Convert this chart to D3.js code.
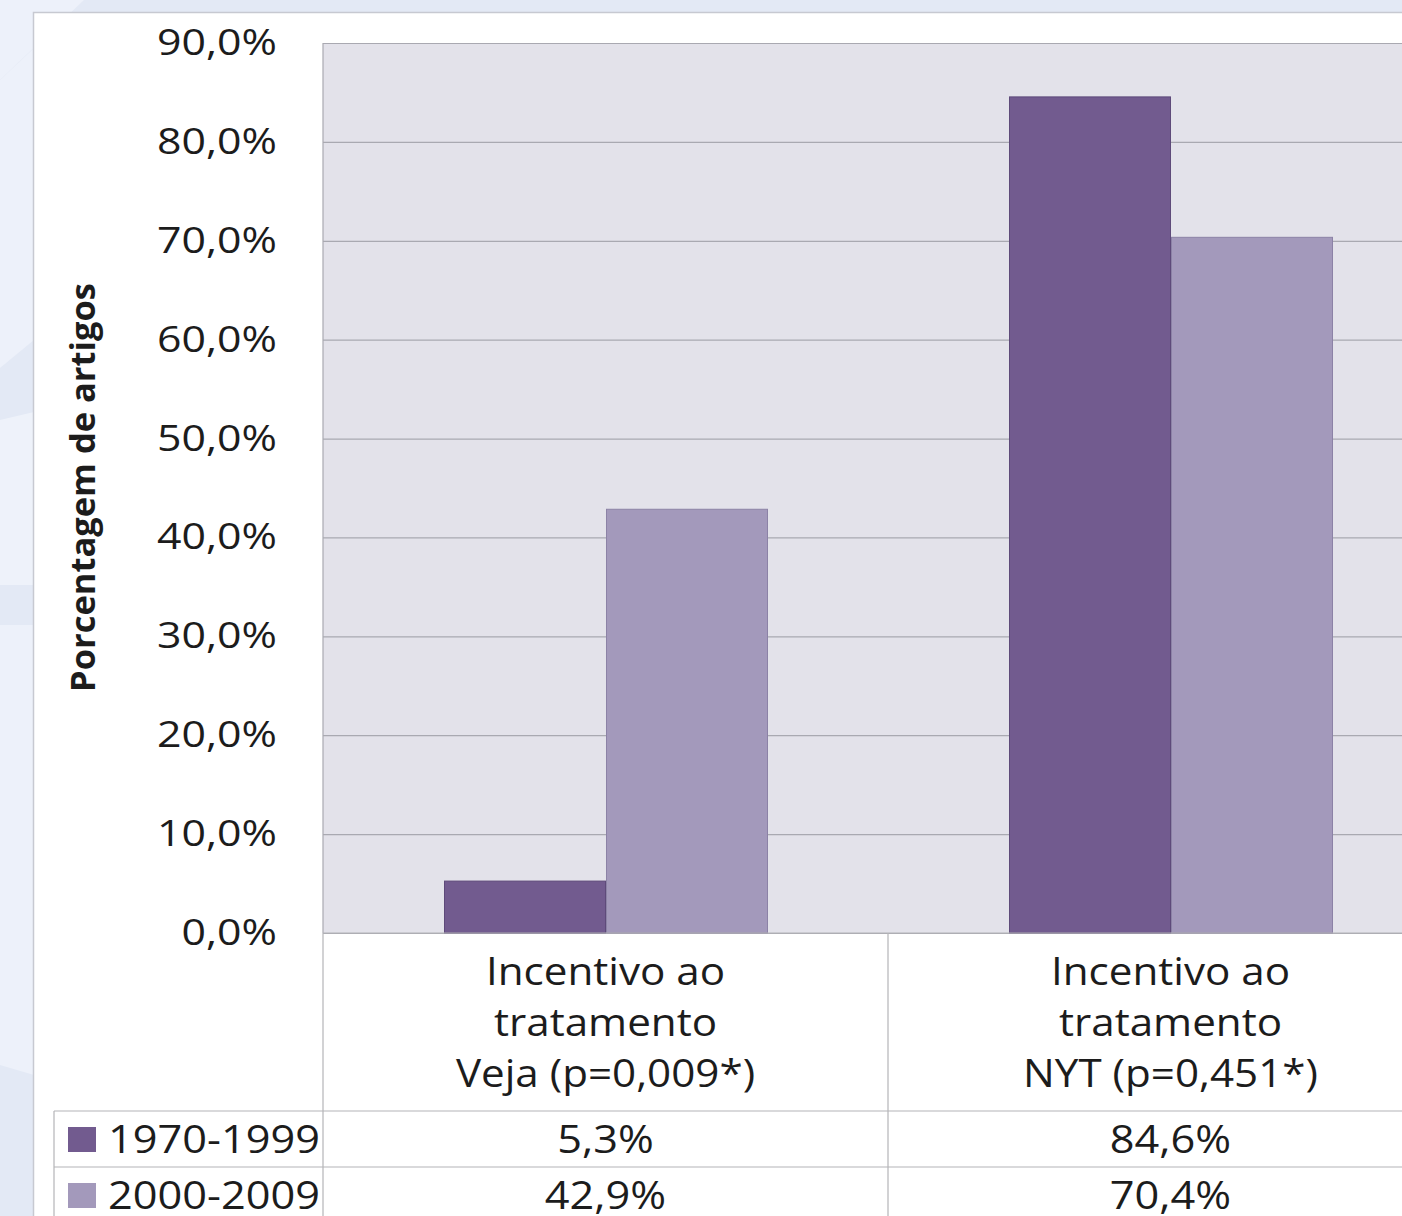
<!DOCTYPE html>
<html>
<head>
<meta charset="utf-8">
<script src="https://cdn.jsdelivr.net/npm/d3@7"></script>
<style>
  html, body { margin: 0; padding: 0; background: #e3e9f5; overflow: hidden; }
  svg { display: block; }
  text { font-family: "Open Sans", "DejaVu Sans", sans-serif; fill: #1c1c1c; }
</style>
</head>
<body>
<script>
// ---- data ----
const categories = ["Veja", "NYT"];
const categoryLines = [
  ["Incentivo ao", "tratamento", "Veja (p=0,009*)"],
  ["Incentivo ao", "tratamento", "NYT (p=0,451*)"]
];
const seriesNames = ["1970-1999", "2000-2009"];
const series1970 = [5.3, 84.6];
const series2000 = [42.9, 70.4];
const yTicks = [0, 10, 20, 30, 40, 50, 60, 70, 80, 90];
const yTitle = "Porcentagem de artigos";
const seriesColors = ["#725b8f", "#a399bb"];
const seriesStrokes = ["#5e4a7a", "#8c82a6"];

const W = 1402, H = 1216;
const svg = d3.select("body").append("svg").attr("width", W).attr("height", H);

// ---- decorative background ----
const bg = svg.append("g");
bg.append("rect").attr("width", W).attr("height", H).attr("fill", "#e3e9f5");
bg.append("path").attr("d", "M0,0 L84,0 L0,80 Z").attr("fill", "#edf1fa");
bg.append("path").attr("d", "M0,80 L34,48 L34,340 L0,368 Z").attr("fill", "#edf1fa");
bg.append("path").attr("d", "M0,420 L34,412 L34,585 L0,585 Z").attr("fill", "#eef2fa");
bg.append("path").attr("d", "M0,625 L34,625 L34,1075 L0,1065 Z").attr("fill", "#edf1fa");

// white chart panel
svg.append("rect").attr("x", 33.5).attr("y", 12.5).attr("width", W).attr("height", H)
  .attr("fill", "#ffffff").attr("stroke", "#c7c9d1").attr("stroke-width", 1.5);

// ---- scales ----
const plotLeft = 323, plotTop = 43, plotBottom = 933, bandW = 565;
const x = d3.scaleBand().domain(categories)
  .range([plotLeft, plotLeft + bandW * categories.length]).padding(0);
const xs = d3.scaleBand().domain(seriesNames).range([121, 121 + 2 * 162]).padding(0);
const y = d3.scaleLinear().domain([0, 90]).range([plotBottom, plotTop]);

function stretchedText(g, tx, ty, str, size, anchor, sx) {
  return g.append("text")
    .attr("transform", `translate(${tx},${ty}) scale(${sx || 1.13},1)`)
    .attr("text-anchor", anchor)
    .attr("font-size", size)
    .text(str);
}

// plot area
svg.append("rect").attr("x", plotLeft).attr("y", plotTop)
  .attr("width", W - plotLeft + 10).attr("height", plotBottom - plotTop)
  .attr("fill", "#e3e2ea");

// gridlines via axis
const grid = svg.append("g").attr("transform", `translate(${plotLeft},0)`)
  .call(d3.axisRight(y).tickValues(yTicks).tickSize(W - plotLeft + 10).tickFormat(""));
grid.select(".domain").remove();
grid.selectAll(".tick line").attr("stroke", "#a9a9b1").attr("stroke-width", 1.2);

// left border of plot
svg.append("line").attr("x1", plotLeft).attr("x2", plotLeft)
  .attr("y1", plotTop).attr("y2", plotBottom).attr("stroke", "#a9a9b1").attr("stroke-width", 1.2);

// y tick labels
const fmt = v => d3.format(".1f")(v).replace(".", ",") + "%";
const yl = svg.append("g");
yTicks.forEach(t => stretchedText(yl, 277, y(t) + 12, fmt(t), 36, "end", 1.19));

// y title
svg.append("text")
  .attr("transform", `translate(95,${(283 + 692) / 2}) rotate(-90)`)
  .attr("text-anchor", "middle")
  .attr("font-size", 34).attr("font-weight", 700)
  .attr("textLength", 409).attr("lengthAdjust", "spacingAndGlyphs")
  .text(yTitle);

// bars
const allSeries = [series1970, series2000];
allSeries.forEach((vals, si) => {
  svg.append("g").selectAll("rect").data(vals).join("rect")
    .attr("x", (d, i) => x(categories[i]) + xs(seriesNames[si]) + 0.5)
    .attr("width", xs.bandwidth() - 1)
    .attr("y", d => y(d) + 0.5)
    .attr("height", d => y(0) - y(d) - 0.5)
    .attr("fill", seriesColors[si])
    .attr("stroke", seriesStrokes[si]).attr("stroke-width", 1);
});

// ---- data table ----
const tbl = svg.append("g").attr("stroke", "#b4b4b8").attr("stroke-width", 1.2);
const rowTop = 1111, rowH = 56;
tbl.append("line").attr("x1", plotLeft).attr("x2", W).attr("y1", plotBottom).attr("y2", plotBottom);
tbl.append("line").attr("x1", 54).attr("x2", W).attr("y1", rowTop).attr("y2", rowTop);
tbl.append("line").attr("x1", 54).attr("x2", W).attr("y1", rowTop + rowH).attr("y2", rowTop + rowH);
tbl.append("line").attr("x1", 54).attr("x2", 54).attr("y1", rowTop).attr("y2", H);
categories.forEach(c => {
  tbl.append("line").attr("x1", x(c)).attr("x2", x(c)).attr("y1", plotBottom).attr("y2", H);
});
tbl.append("line").attr("x1", x(categories[1]) + bandW).attr("x2", x(categories[1]) + bandW)
  .attr("y1", plotBottom).attr("y2", H);

// category labels
const cl = svg.append("g");
categories.forEach((c, i) => {
  const cx = x(c) + x.bandwidth() / 2;
  categoryLines[i].forEach((ln, j) => stretchedText(cl, cx, 985 + j * 51, ln, 38, "middle", 1.11));
});

// legend rows + values
const lg = svg.append("g");
allSeries.forEach((vals, si) => {
  const cy = rowTop + rowH * si + rowH / 2;
  lg.append("rect").attr("x", 68).attr("y", cy - 12).attr("width", 28).attr("height", 25)
    .attr("fill", seriesColors[si]);
  stretchedText(lg, 108, cy + 14, seriesNames[si], 38, "start", 1.14);
  vals.forEach((v, i) => {
    stretchedText(lg, x(categories[i]) + x.bandwidth() / 2, cy + 14, fmt(v), 38, "middle", 1.14);
  });
});
</script>
</body>
</html>
